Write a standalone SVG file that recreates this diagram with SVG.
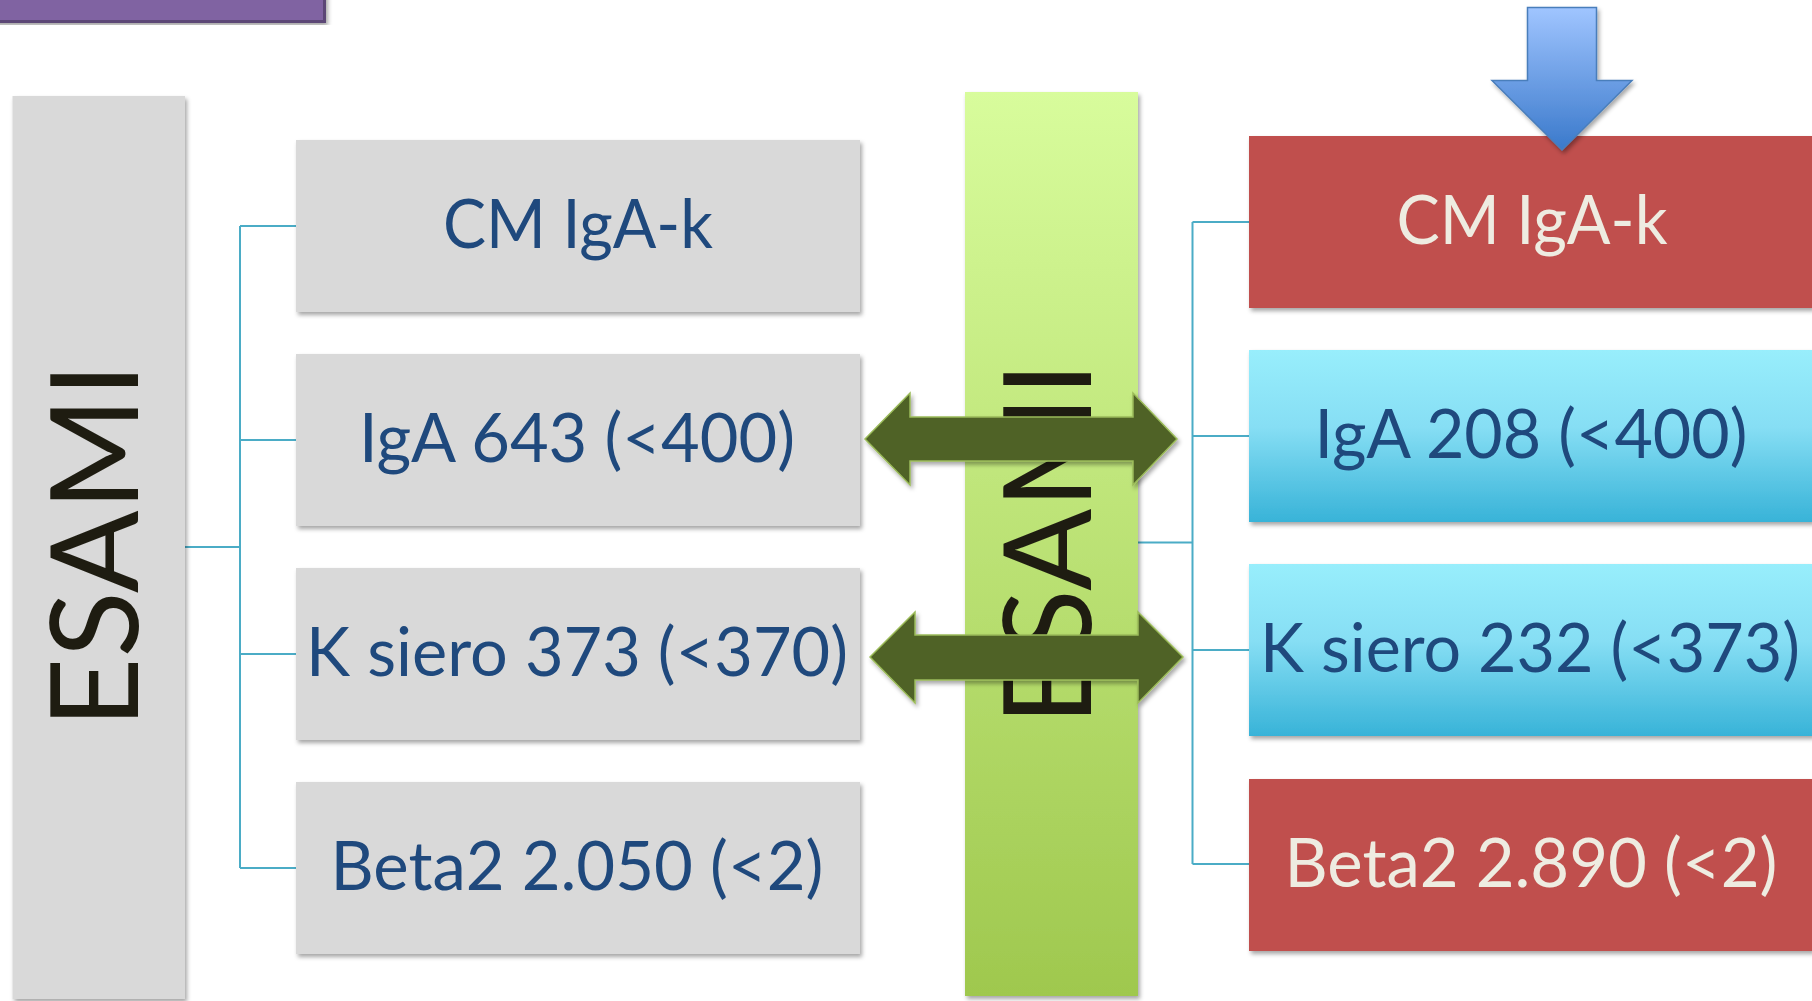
<svg xmlns="http://www.w3.org/2000/svg" width="1812" height="1001" viewBox="0 0 1812 1001">
<defs>
<style>
.gray{fill:#d9d9d9}
.red{fill:#c0504d}
.cyan{fill:url(#gCyan)}
.lbl{font-family:Lato,"Open Sans","Liberation Sans",sans-serif;font-size:67px;text-anchor:middle}
.dark{fill:#1f497d}
.light{fill:#eeece1}
.big{font-family:Lato,"Open Sans","Liberation Sans",sans-serif;font-size:123px;text-anchor:middle;fill:#1e1c11}
.conn{stroke:#4bacc6;stroke-width:2;fill:none}
.dbl{fill:#4f6228;stroke:#9bbb59;stroke-width:1.5}
</style>
<linearGradient id="gGreen" x1="0" y1="0" x2="0" y2="1">
<stop offset="0" stop-color="#d8fc9c"/>
<stop offset="1" stop-color="#9fc84e"/>
</linearGradient>
<linearGradient id="gCyan" x1="0" y1="0" x2="0" y2="1">
<stop offset="0" stop-color="#98eefc"/>
<stop offset="0.45" stop-color="#86def4"/>
<stop offset="1" stop-color="#38b3d8"/>
</linearGradient>
<linearGradient id="gBlue" x1="0" y1="0" x2="0" y2="1">
<stop offset="0" stop-color="#a0c5ff"/>
<stop offset="1" stop-color="#3a79cb"/>
</linearGradient>
<filter id="sh" x="-5%" y="-5%" width="115%" height="115%">
<feDropShadow dx="2" dy="3" stdDeviation="2" flood-color="#000" flood-opacity="0.35"/>
</filter>
</defs>

<g id="title-bar">
<rect x="-10" y="-10" width="334.5" height="31.5" fill="#8064a2" stroke="#5c4776" stroke-width="3" filter="url(#sh)"/>
</g>

<g id="connectors">
<path class="conn" d="M185,547 H240 M240,226 V868 M240,226 H296 M240,440 H296 M240,654 H296 M240,868 H296"/>
<path class="conn" d="M1138,542.5 H1192.5 M1192.5,222 V864 M1192.5,222 H1249 M1192.5,436 H1249 M1192.5,650 H1249 M1192.5,864 H1249"/>
</g>

<g id="esami-left">
<rect class="gray" x="12.5" y="96" width="172.5" height="903" filter="url(#sh)"/>
<text class="big" transform="translate(138,545.5) rotate(-90)" textLength="365" lengthAdjust="spacingAndGlyphs">ESAMI</text>
</g>

<g id="l-cm">
<rect class="gray" x="296" y="140" width="564" height="172" filter="url(#sh)"/>
<text class="lbl dark" x="578" y="248" textLength="270" lengthAdjust="spacingAndGlyphs">CM IgA-k</text>
</g>
<g id="l-iga">
<rect class="gray" x="296" y="354" width="564" height="172" filter="url(#sh)"/>
<text class="lbl dark" x="577" y="462" textLength="436" lengthAdjust="spacingAndGlyphs">IgA 643 (&lt;400)</text>
</g>
<g id="l-k">
<rect class="gray" x="296" y="568" width="564" height="172" filter="url(#sh)"/>
<text class="lbl dark" x="577" y="676" textLength="542" lengthAdjust="spacingAndGlyphs">K siero 373 (&lt;370)</text>
</g>
<g id="l-beta">
<rect class="gray" x="296" y="782" width="564" height="172" filter="url(#sh)"/>
<text class="lbl dark" x="577" y="890" textLength="493" lengthAdjust="spacingAndGlyphs">Beta2 2.050 (&lt;2)</text>
</g>

<g id="esami-mid">
<rect x="965" y="92" width="173" height="904" fill="url(#gGreen)" filter="url(#sh)"/>
<text class="big" transform="translate(1091,543.5) rotate(-90)" textLength="363" lengthAdjust="spacingAndGlyphs">ESAMI</text>
</g>

<g id="double-arrows" filter="url(#sh)">
<polygon class="dbl" points="865,439 910,393 910,417 1133,417 1133,393 1177,439 1133,485 1133,461 910,461 910,485"/>
<polygon class="dbl" points="870,657 915,612 915,635 1138,635 1138,612 1183,657 1138,703 1138,680 915,680 915,703"/>
</g>

<g id="r-cm">
<rect class="red" x="1249" y="136" width="564" height="172" filter="url(#sh)"/>
<text class="lbl light" x="1532" y="244" textLength="271" lengthAdjust="spacingAndGlyphs">CM IgA-k</text>
</g>
<g id="r-iga">
<rect class="cyan" x="1249" y="350" width="564" height="172" filter="url(#sh)"/>
<text class="lbl dark" x="1531" y="458" textLength="433" lengthAdjust="spacingAndGlyphs">IgA 208 (&lt;400)</text>
</g>
<g id="r-k">
<rect class="cyan" x="1249" y="564" width="564" height="172" filter="url(#sh)"/>
<text class="lbl dark" x="1530" y="672" textLength="540" lengthAdjust="spacingAndGlyphs">K siero 232 (&lt;373)</text>
</g>
<g id="r-beta">
<rect class="red" x="1249" y="779" width="564" height="172" filter="url(#sh)"/>
<text class="lbl light" x="1531" y="887" textLength="493" lengthAdjust="spacingAndGlyphs">Beta2 2.890 (&lt;2)</text>
</g>

<g id="down-arrow">
<polygon points="1527.5,7.5 1596.5,7.5 1596.5,80.5 1632,80.5 1562,150 1492,80.5 1527.5,80.5" fill="url(#gBlue)" stroke="#4a7ebb" stroke-width="1.5" filter="url(#sh)"/>
</g>
</svg>
